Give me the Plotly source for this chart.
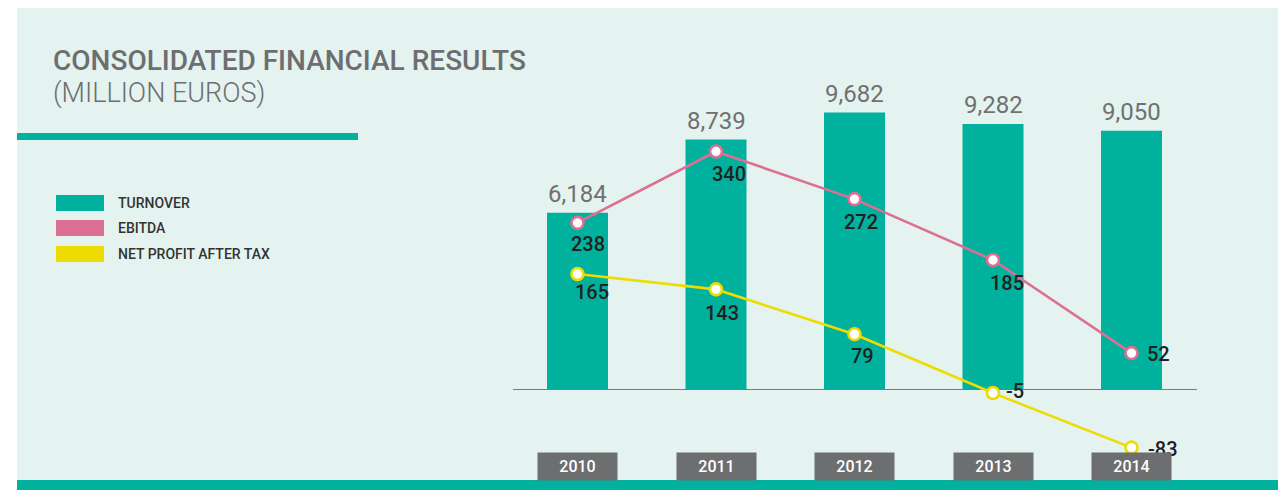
import plotly.graph_objects as go

# ---------------- data ----------------
years = [2010, 2011, 2012, 2013, 2014]
year_labels = ["2010", "2011", "2012", "2013", "2014"]
turnover = [6184, 8739, 9682, 9282, 9050]
ebitda = [238, 340, 272, 185, 52]
net_profit = [165, 143, 79, -5, -83]
series_names = ["TURNOVER", "EBITDA", "NET PROFIT AFTER TAX"]
title_text = "CONSOLIDATED FINANCIAL RESULTS"
subtitle_text = "(MILLION EUROS)"

# ---------------- style ----------------
OFF = 8                      # page body margin offset
W, H = 1286 - OFF, 490 - OFF
TEAL = "#00b19d"
PINK = "#dd6f94"
YELLOW = "#eedc00"
BG = "#e4f3ef"
GREY = "#6d6e70"
DARK = "#231f20"
FONT = "Roboto, sans-serif"

first_px, step_px = 577.5 - OFF, 138.5   # pixel centre of first category, spacing
zero_px = 389.5 - OFF                     # pixel row of value zero
k_bar, k_line = 0.0286, 0.70              # px per unit


def px_x(px):
    return (px - OFF) / W


def px_y(py):
    return 1 - (py - OFF) / H


x_range = [years[0] - first_px / step_px, years[0] + (W - first_px) / step_px]
y_range = [-(H - zero_px) / k_bar, zero_px / k_bar]
y2_range = [-(H - zero_px) / k_line, zero_px / k_line]

fig = go.Figure()

fig.add_trace(go.Bar(
    x=years, y=turnover, name=series_names[0],
    marker=dict(color=TEAL, line=dict(width=0)),
    width=61 / step_px, showlegend=False, hoverinfo="skip",
))

for vals, col, name in [(ebitda, PINK, series_names[1]), (net_profit, YELLOW, series_names[2])]:
    fig.add_trace(go.Scatter(
        x=years, y=vals, yaxis="y2", name=name, mode="lines+markers",
        line=dict(color=col, width=2.6),
        marker=dict(symbol="circle", size=12, color="white", line=dict(color=col, width=2.6)),
        showlegend=False, hoverinfo="skip", cliponaxis=False,
    ))

shapes = [
    dict(type="rect", xref="paper", yref="paper", x0=px_x(17), x1=1, y0=0, y1=px_y(8),
         fillcolor=BG, line=dict(width=0), layer="below"),
    dict(type="rect", xref="paper", yref="paper", x0=px_x(17), x1=px_x(358), y0=px_y(140), y1=px_y(133),
         fillcolor=TEAL, line=dict(width=0), layer="below"),
    dict(type="rect", xref="paper", yref="paper", x0=px_x(17), x1=1, y0=0, y1=px_y(480),
         fillcolor=TEAL, line=dict(width=0), layer="below"),
    dict(type="line", xref="paper", yref="y", x0=px_x(513), x1=px_x(1197), y0=0, y1=0,
         line=dict(color=TEAL, width=1), layer="below"),
]

annotations = [
    dict(text=title_text, xref="paper", yref="paper", x=px_x(51), y=px_y(60), xanchor="left", yanchor="middle",
         showarrow=False, font=dict(family=FONT, size=28, color=GREY, weight=500)),
    dict(text=subtitle_text, xref="paper", yref="paper", x=px_x(51), y=px_y(93), xanchor="left", yanchor="middle",
         showarrow=False, font=dict(family=FONT, size=27, color=GREY, weight=300)),
]

legend_colors = [TEAL, PINK, YELLOW]
legend_rows = [203, 228, 254]
for name, col, row in zip(series_names, legend_colors, legend_rows):
    shapes.append(dict(type="rect", xref="paper", yref="paper", x0=px_x(56), x1=px_x(104),
                       y0=px_y(row + 8), y1=px_y(row - 8), fillcolor=col, line=dict(width=0)))
    annotations.append(dict(text=name, xref="paper", yref="paper", x=px_x(116), y=px_y(row),
                            xanchor="left", yanchor="middle", showarrow=False,
                            font=dict(family=FONT, size=14, color="#333333", weight=500)))

for x, v in zip(years, turnover):
    annotations.append(dict(text=f"{v:,}", x=x, y=v, xref="x", yref="y", xanchor="center", yanchor="bottom",
                            yshift=3, showarrow=False, font=dict(family=FONT, size=24, color="#707070", weight=400)))

ebitda_pos = [(10, -21, "center"), (13, -22, "center"), (6, -23, "center"), (14, -23, "center"), (13, -1, "left")]
net_pos = [(14, -18, "center"), (6, -24, "center"), (8, -22, "center"), (11, 2, "left"), (14, -1, "left")]
for vals, posl in [(ebitda, ebitda_pos), (net_profit, net_pos)]:
    for x, v, (dx, dy, xa) in zip(years, vals, posl):
        annotations.append(dict(text=str(v), x=x, y=v, xref="x", yref="y2", xanchor=xa, yanchor="middle",
                                xshift=dx, yshift=dy, showarrow=False,
                                font=dict(family=FONT, size=20, color=DARK, weight=500)))

for x, lab in zip(years, year_labels):
    annotations.append(dict(text=lab, x=x, y=px_y(466.5), xref="x", yref="paper", xanchor="center",
                            yanchor="middle", showarrow=False, bgcolor=GREY, width=79, height=27,
                            borderpad=0, font=dict(family=FONT, size=16, color="white", weight=500)))

fig.update_layout(
    width=W, height=H,
    margin=dict(l=0, r=0, t=0, b=0, autoexpand=False),
    paper_bgcolor="white", plot_bgcolor="rgba(0,0,0,0)",
    xaxis=dict(range=x_range, visible=False, fixedrange=True),
    yaxis=dict(range=y_range, visible=False, fixedrange=True),
    yaxis2=dict(range=y2_range, visible=False, overlaying="y", fixedrange=True),
    shapes=shapes, annotations=annotations, showlegend=False,
)

fig.write_html("out.html", config={"displayModeBar": False})
